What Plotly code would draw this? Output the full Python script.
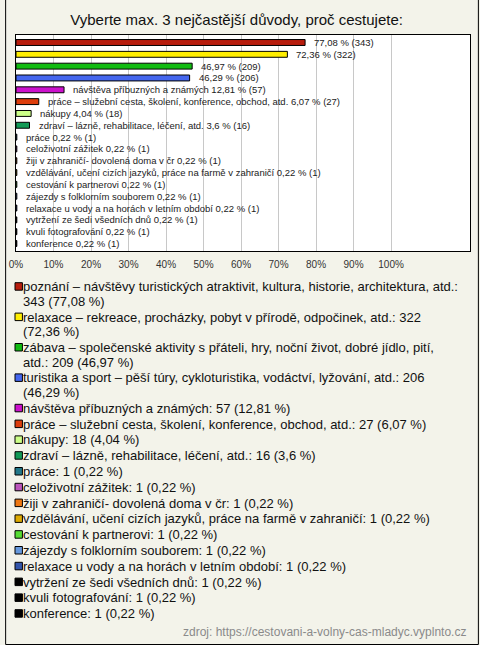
import plotly.graph_objects as go

TITLE = "Vyberte max. 3 nejčastější důvody, proč cestujete:"
SOURCE = "zdroj: https://cestovani-a-volny-cas-mladyc.vyplnto.cz"

categories = [
    "poznání – návštěvy turistických atraktivit, kultura, historie, architektura, atd.",
    "relaxace – rekreace, procházky, pobyt v přírodě, odpočinek, atd.",
    "zábava – společenské aktivity s přáteli, hry, noční život, dobré jídlo, pití, atd.",
    "turistika a sport – pěší túry, cykloturistika, vodáctví, lyžování, atd.",
    "návštěva příbuzných a známých",
    "práce – služební cesta, školení, konference, obchod, atd.",
    "nákupy",
    "zdraví – lázně, rehabilitace, léčení, atd.",
    "práce",
    "celoživotní zážitek",
    "žiji v zahraničí- dovolená doma v čr",
    "vzdělávání, učení cizích jazyků, práce na farmě v zahraničí",
    "cestování k partnerovi",
    "zájezdy s folklorním souborem",
    "relaxace u vody a na horách v letním období",
    "vytržení ze šedi všedních dnů",
    "kvuli fotografování",
    "konference",
]
counts = [343, 322, 209, 206, 57, 27, 18, 16, 1, 1, 1, 1, 1, 1, 1, 1, 1, 1]
percents = [77.08, 72.36, 46.97, 46.29, 12.81, 6.07, 4.04, 3.6,
            0.22, 0.22, 0.22, 0.22, 0.22, 0.22, 0.22, 0.22, 0.22, 0.22]
colors = ["#b81d0d", "#ffee00", "#11bb11", "#4466ee", "#cc11cc", "#dd3d0c",
          "#ccff88", "#119955", "#227788", "#bb55bb", "#ee7711", "#ddaa00",
          "#55dd33", "#6699dd", "#3355aa", "#000000", "#000000", "#000000"]
tick_values = [0, 10, 20, 30, 40, 50, 60, 70, 80, 90, 100]
tick_labels = [f"{v}%" for v in tick_values]

# where the legend entry wraps onto a second line
legend_breaks = {0: "343 (", 1: "(72,36", 2: "atd.: 209", 3: "(46,29"}

FONT = "Liberation Sans, Arial, sans-serif"
L, R, T, B = 11, 471, 35, 251
W, H = R - L, B - T
FIG_W, FIG_H = 480, 645


def px_x(x):
    return (x - L) / W


def px_y(y):
    return (B - y) / H


def fmt(p):
    return f"{p:g}".replace(".", ",")


fig = go.Figure()
fig.add_trace(go.Bar(
    x=percents, y=categories, orientation="h",
    marker=dict(color=colors, line=dict(color="#000000", width=1)),
    width=0.5, showlegend=False, hoverinfo="x+y",
))

annotations = []
for name, c, p in zip(categories, counts, percents):
    label = f"{fmt(p)} % ({c})" if p > 20 else f"{name} {fmt(p)} % ({c})"
    annotations.append(dict(
        x=p, y=name, xref="x", yref="y", text=label, showarrow=False,
        xanchor="left", yanchor="middle", xshift=7,
        font=dict(family=FONT, size=9.5, color="#222222"),
    ))

# legend (drawn manually to match the original spacing)
shapes = []
y = 286.7
LINE_H, GAP = 14.6, 1.2
for i, (name, c, p, col) in enumerate(zip(categories, counts, percents, colors)):
    full = f"{name}: {c} ({fmt(p)} %)"
    if i in legend_breaks:
        k = full.index(legend_breaks[i])
        lines = [full[:k].rstrip(), full[k:]]
    else:
        lines = [full]
    shapes.append(dict(
        type="rect", xref="paper", yref="paper",
        x0=px_x(10), x1=px_x(17.5), y0=px_y(y - 4), y1=px_y(y + 3.5),
        fillcolor=col, line=dict(color="#000000", width=1),
    ))
    for ln in lines:
        annotations.append(dict(
            x=px_x(18.5), y=px_y(y), xref="paper", yref="paper", text=ln,
            showarrow=False, xanchor="left", yanchor="middle",
            borderpad=0, borderwidth=0,
            font=dict(family=FONT, size=13, color="#111111"),
        ))
        y += LINE_H
    y += GAP

annotations.append(dict(
    x=px_x(469), y=px_y(632), xref="paper", yref="paper", text=SOURCE,
    showarrow=False, xanchor="right", yanchor="middle",
    font=dict(family=FONT, size=12, color="#8a8a8a"),
))

# outer frame
shapes.append(dict(
    type="path", xref="paper", yref="paper",
    path=(f"M {px_x(0.5)},{px_y(0)} L {px_x(0.5)},{px_y(644.5)} "
          f"L {px_x(479.5)},{px_y(644.5)} L {px_x(479.5)},{px_y(0)}"),
    line=dict(color="#000000", width=1),
))

fig.update_layout(
    width=FIG_W, height=FIG_H,
    margin=dict(l=L, r=FIG_W - R, t=T, b=FIG_H - B, pad=0),
    paper_bgcolor="#f3f3ea", plot_bgcolor="#ffffff",
    title=dict(text=TITLE, x=0.493, xref="container", xanchor="center",
               y=1 - 20 / FIG_H, yref="container", yanchor="middle",
               font=dict(family=FONT, size=15, color="#111111")),
    xaxis=dict(range=[0, W / 3.8], tickvals=tick_values, ticktext=tick_labels,
               showgrid=True, gridcolor="#c8c8c8", gridwidth=1, zeroline=False,
               showline=True, mirror=True, linecolor="#000000", linewidth=1,
               ticks="outside", ticklen=4, tickcolor="rgba(0,0,0,0)",
               tickfont=dict(family=FONT, size=10, color="#333333"),
               fixedrange=True),
    yaxis=dict(autorange="reversed", showticklabels=False, showgrid=False,
               zeroline=False, showline=True, mirror=True, linecolor="#000000",
               linewidth=1, fixedrange=True),
    annotations=annotations, shapes=shapes, bargap=0.5,
    font=dict(family=FONT),
)

fig.write_html(
    "out.html",
    config={"displayModeBar": False, "responsive": False},
    post_script="document.body.style.margin='0';document.body.style.overflow='hidden';",
)
